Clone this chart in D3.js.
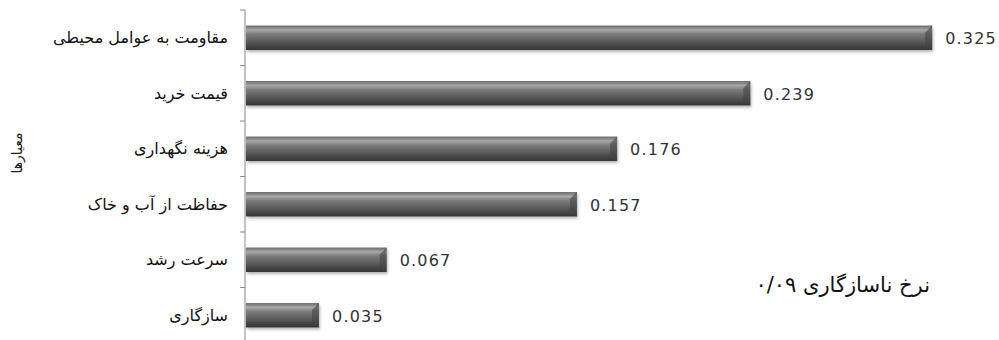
<!DOCTYPE html>
<html>
<head>
<meta charset="utf-8">
<script src="https://cdn.jsdelivr.net/npm/d3@7"></script>
<style>
  body { margin: 0; background: #fff; }
  text { font-family: "DejaVu Sans", sans-serif; }
</style>
</head>
<body>
<div id="chart"></div>
<script>
// criteria weights (top to bottom)
let categories = ["مقاومت به عوامل محیطی", "قیمت خرید", "هزینه نگهداری", "حفاظت از آب و خاک", "سرعت رشد", "سازگاری"]
let weights = [0.325, 0.239, 0.176, 0.157, 0.067, 0.035]
let yTitle = "معیارها"
let note = "نرخ ناسازگاری ۰/۰۹"

let svg = d3.select("#chart")
  .append("svg")
  .attr("width", 999)
  .attr("height", 340)

let defs = svg.append("defs")
let grad = defs.append("linearGradient")
  .attr("id", "barGrad")
  .attr("x1", 0).attr("y1", 0).attr("x2", 0).attr("y2", 1)
grad.append("stop").attr("offset", "0%").attr("stop-color", "#6a6a6a")
grad.append("stop").attr("offset", "18%").attr("stop-color", "#a8a8a8")
grad.append("stop").attr("offset", "35%").attr("stop-color", "#7c7c7c")
grad.append("stop").attr("offset", "70%").attr("stop-color", "#555")
grad.append("stop").attr("offset", "100%").attr("stop-color", "#333")

let shadow = defs.append("filter").attr("id", "shadow")
  .attr("x", "-5%").attr("y", "-30%").attr("width", "110%").attr("height", "170%")
shadow.append("feDropShadow")
  .attr("dx", 1).attr("dy", 2).attr("stdDeviation", 1.5)
  .attr("flood-color", "#000").attr("flood-opacity", 0.3)

let x = d3.scaleLinear().domain([0, 0.35]).range([245, 985])
let y = d3.scaleBand().domain(categories).range([10, 343])
  .paddingInner(0.56).paddingOuter(0.28)

// axis line and boundary ticks
let step = y.step()
let bounds = d3.range(categories.length).map(i => 10 + i * step)
svg.append("line")
  .attr("x1", x(0)).attr("x2", x(0))
  .attr("y1", 10).attr("y2", 340)
  .attr("stroke", "#888")
svg.selectAll(".tick")
  .data(bounds)
  .enter()
  .append("line")
  .attr("x1", x(0) - 5).attr("x2", x(0))
  .attr("y1", d => d).attr("y2", d => d)
  .attr("stroke", "#888")

svg.selectAll("rect.bar")
  .data(weights)
  .enter()
  .append("rect")
  .attr("class", "bar")
  .attr("x", x(0) + 1)
  .attr("y", (d, i) => y(categories[i]))
  .attr("width", d => x(d) - x(0) - 1)
  .attr("height", y.bandwidth())
  .attr("fill", "url(#barGrad)")
  .attr("filter", "url(#shadow)")

// bevel at the bar ends
svg.selectAll("path.bevel")
  .data(weights)
  .enter()
  .append("path")
  .attr("class", "bevel")
  .attr("d", (d, i) => {
    let x1 = x(d), y0 = y(categories[i]), h = y.bandwidth()
    return `M${x1 - 7},${y0 + 7} L${x1},${y0} L${x1},${y0 + h} L${x1 - 7},${y0 + h - 4} Z`
  })
  .attr("fill", "#444")
  .attr("opacity", 0.6)

svg.selectAll("text.val")
  .data(weights)
  .enter()
  .append("text")
  .attr("class", "val")
  .attr("x", d => x(d) + 13)
  .attr("y", (d, i) => y(categories[i]) + y.bandwidth() / 2)
  .attr("dy", "0.4em")
  .attr("font-size", 16)
  .attr("fill", "#333")
  .attr("letter-spacing", 1.2)
  .text(d => d.toFixed(3))

svg.selectAll("text.cat")
  .data(categories)
  .enter()
  .append("text")
  .attr("class", "cat")
  .attr("x", 228)
  .attr("y", d => y(d) + y.bandwidth() / 2)
  .attr("dy", "0.35em")
  .attr("text-anchor", "start")
  .attr("direction", "rtl")
  .attr("font-size", 16)
  .attr("fill", "#111")
  .text(d => d)

svg.append("text")
  .attr("transform", "translate(22,153) rotate(-90)")
  .attr("text-anchor", "middle")
  .attr("direction", "rtl")
  .attr("font-size", 14)
  .attr("fill", "#222")
  .text(yTitle)

svg.append("text")
  .attr("x", 930)
  .attr("y", 292)
  .attr("text-anchor", "start")
  .attr("direction", "rtl")
  .attr("font-size", 21)
  .attr("fill", "#111")
  .text(note)
</script>
</body>
</html>
